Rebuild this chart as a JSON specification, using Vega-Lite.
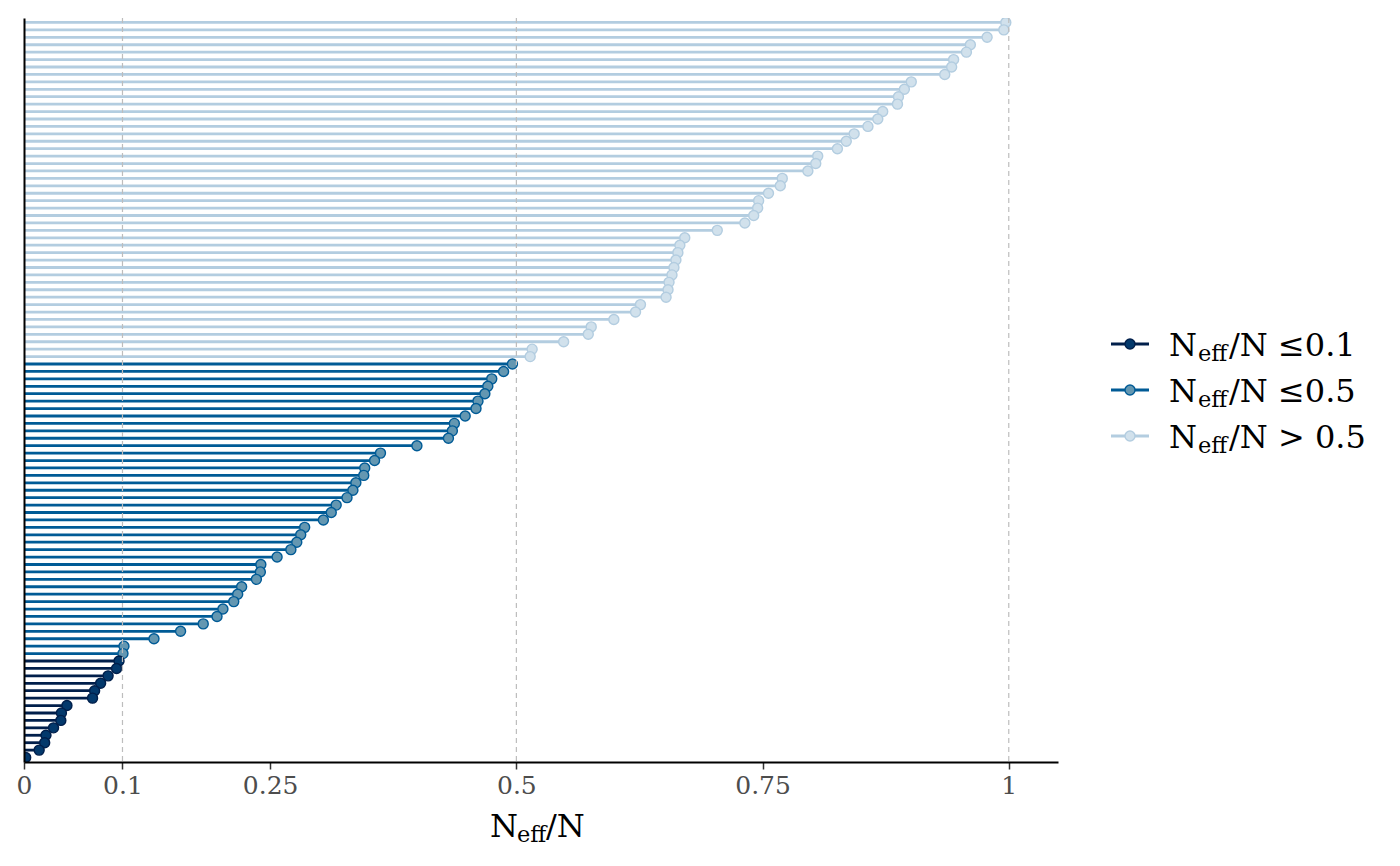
{
  "$schema": "https://vega.github.io/schema/vega-lite/v6.json",
  "background": "white",
  "padding": {"left": 16, "top": 17, "right": 5, "bottom": 5},
  "config": {
    "view": {"stroke": null},
    "font": "DejaVu Serif",
    "concat": {"spacing": 42}
  },
  "datasets": {
    "neff": [
      {"param": "p001", "ratio": 0.997, "rating": "high"},
      {"param": "p002", "ratio": 0.995, "rating": "high"},
      {"param": "p003", "ratio": 0.978, "rating": "high"},
      {"param": "p004", "ratio": 0.961, "rating": "high"},
      {"param": "p005", "ratio": 0.957, "rating": "high"},
      {"param": "p006", "ratio": 0.944, "rating": "high"},
      {"param": "p007", "ratio": 0.942, "rating": "high"},
      {"param": "p008", "ratio": 0.935, "rating": "high"},
      {"param": "p009", "ratio": 0.901, "rating": "high"},
      {"param": "p010", "ratio": 0.894, "rating": "high"},
      {"param": "p011", "ratio": 0.888, "rating": "high"},
      {"param": "p012", "ratio": 0.887, "rating": "high"},
      {"param": "p013", "ratio": 0.872, "rating": "high"},
      {"param": "p014", "ratio": 0.867, "rating": "high"},
      {"param": "p015", "ratio": 0.857, "rating": "high"},
      {"param": "p016", "ratio": 0.843, "rating": "high"},
      {"param": "p017", "ratio": 0.835, "rating": "high"},
      {"param": "p018", "ratio": 0.826, "rating": "high"},
      {"param": "p019", "ratio": 0.806, "rating": "high"},
      {"param": "p020", "ratio": 0.804, "rating": "high"},
      {"param": "p021", "ratio": 0.796, "rating": "high"},
      {"param": "p022", "ratio": 0.770, "rating": "high"},
      {"param": "p023", "ratio": 0.768, "rating": "high"},
      {"param": "p024", "ratio": 0.756, "rating": "high"},
      {"param": "p025", "ratio": 0.746, "rating": "high"},
      {"param": "p026", "ratio": 0.745, "rating": "high"},
      {"param": "p027", "ratio": 0.741, "rating": "high"},
      {"param": "p028", "ratio": 0.732, "rating": "high"},
      {"param": "p029", "ratio": 0.704, "rating": "high"},
      {"param": "p030", "ratio": 0.671, "rating": "high"},
      {"param": "p031", "ratio": 0.666, "rating": "high"},
      {"param": "p032", "ratio": 0.664, "rating": "high"},
      {"param": "p033", "ratio": 0.662, "rating": "high"},
      {"param": "p034", "ratio": 0.660, "rating": "high"},
      {"param": "p035", "ratio": 0.658, "rating": "high"},
      {"param": "p036", "ratio": 0.655, "rating": "high"},
      {"param": "p037", "ratio": 0.654, "rating": "high"},
      {"param": "p038", "ratio": 0.652, "rating": "high"},
      {"param": "p039", "ratio": 0.626, "rating": "high"},
      {"param": "p040", "ratio": 0.621, "rating": "high"},
      {"param": "p041", "ratio": 0.599, "rating": "high"},
      {"param": "p042", "ratio": 0.576, "rating": "high"},
      {"param": "p043", "ratio": 0.573, "rating": "high"},
      {"param": "p044", "ratio": 0.548, "rating": "high"},
      {"param": "p045", "ratio": 0.516, "rating": "high"},
      {"param": "p046", "ratio": 0.514, "rating": "high"},
      {"param": "p047", "ratio": 0.496, "rating": "ok"},
      {"param": "p048", "ratio": 0.487, "rating": "ok"},
      {"param": "p049", "ratio": 0.475, "rating": "ok"},
      {"param": "p050", "ratio": 0.471, "rating": "ok"},
      {"param": "p051", "ratio": 0.468, "rating": "ok"},
      {"param": "p052", "ratio": 0.461, "rating": "ok"},
      {"param": "p053", "ratio": 0.459, "rating": "ok"},
      {"param": "p054", "ratio": 0.448, "rating": "ok"},
      {"param": "p055", "ratio": 0.437, "rating": "ok"},
      {"param": "p056", "ratio": 0.435, "rating": "ok"},
      {"param": "p057", "ratio": 0.431, "rating": "ok"},
      {"param": "p058", "ratio": 0.399, "rating": "ok"},
      {"param": "p059", "ratio": 0.362, "rating": "ok"},
      {"param": "p060", "ratio": 0.356, "rating": "ok"},
      {"param": "p061", "ratio": 0.346, "rating": "ok"},
      {"param": "p062", "ratio": 0.345, "rating": "ok"},
      {"param": "p063", "ratio": 0.337, "rating": "ok"},
      {"param": "p064", "ratio": 0.334, "rating": "ok"},
      {"param": "p065", "ratio": 0.328, "rating": "ok"},
      {"param": "p066", "ratio": 0.317, "rating": "ok"},
      {"param": "p067", "ratio": 0.312, "rating": "ok"},
      {"param": "p068", "ratio": 0.304, "rating": "ok"},
      {"param": "p069", "ratio": 0.285, "rating": "ok"},
      {"param": "p070", "ratio": 0.281, "rating": "ok"},
      {"param": "p071", "ratio": 0.277, "rating": "ok"},
      {"param": "p072", "ratio": 0.271, "rating": "ok"},
      {"param": "p073", "ratio": 0.257, "rating": "ok"},
      {"param": "p074", "ratio": 0.2405, "rating": "ok"},
      {"param": "p075", "ratio": 0.2400, "rating": "ok"},
      {"param": "p076", "ratio": 0.236, "rating": "ok"},
      {"param": "p077", "ratio": 0.221, "rating": "ok"},
      {"param": "p078", "ratio": 0.217, "rating": "ok"},
      {"param": "p079", "ratio": 0.213, "rating": "ok"},
      {"param": "p080", "ratio": 0.202, "rating": "ok"},
      {"param": "p081", "ratio": 0.196, "rating": "ok"},
      {"param": "p082", "ratio": 0.182, "rating": "ok"},
      {"param": "p083", "ratio": 0.159, "rating": "ok"},
      {"param": "p084", "ratio": 0.132, "rating": "ok"},
      {"param": "p085", "ratio": 0.1015, "rating": "ok"},
      {"param": "p086", "ratio": 0.1005, "rating": "ok"},
      {"param": "p087", "ratio": 0.0965, "rating": "low"},
      {"param": "p088", "ratio": 0.094, "rating": "low"},
      {"param": "p089", "ratio": 0.0854, "rating": "low"},
      {"param": "p090", "ratio": 0.0778, "rating": "low"},
      {"param": "p091", "ratio": 0.0717, "rating": "low"},
      {"param": "p092", "ratio": 0.0696, "rating": "low"},
      {"param": "p093", "ratio": 0.0436, "rating": "low"},
      {"param": "p094", "ratio": 0.038, "rating": "low"},
      {"param": "p095", "ratio": 0.0374, "rating": "low"},
      {"param": "p096", "ratio": 0.030, "rating": "low"},
      {"param": "p097", "ratio": 0.0223, "rating": "low"},
      {"param": "p098", "ratio": 0.021, "rating": "low"},
      {"param": "p099", "ratio": 0.0154, "rating": "low"},
      {"param": "p100", "ratio": 0.0017, "rating": "low"}
    ],
    "refs": [{"ref": 0.1}, {"ref": 0.5}, {"ref": 1}],
    "axis_title": [{"main": "N", "sub": "eff", "tail": "/N"}],
    "keys": [
      {"rating": "low", "main": "N", "sub": "eff", "tail": "/N ≤0.1"},
      {"rating": "ok", "main": "N", "sub": "eff", "tail": "/N ≤0.5"},
      {"rating": "high", "main": "N", "sub": "eff", "tail": "/N > 0.5"}
    ]
  },
  "hconcat": [
    {
      "width": 1034,
      "height": 744,
      "layer": [
        {
          "data": {"name": "neff"},
          "mark": {"type": "rule", "strokeWidth": 2.8},
          "encoding": {
            "y": {
              "field": "param",
              "type": "nominal",
              "sort": {"field": "ratio", "order": "descending"},
              "scale": {"type": "point", "padding": 0.6},
              "axis": {"domain": true, "domainColor": "black", "domainWidth": 2, "ticks": false, "labels": false, "grid": false, "title": null, "zindex": 1}
            },
            "x": {
              "field": "ratio",
              "type": "quantitative",
              "scale": {"domain": [0, 1.05], "nice": false, "zero": true},
              "axis": {
                "values": [0, 0.1, 0.25, 0.5, 0.75, 1],
                "format": "~g",
                "grid": false,
                "domainColor": "black",
                "domainWidth": 2,
                "tickColor": "#333333",
                "tickWidth": 1.5,
                "tickSize": 7,
                "labelFlush": false,
                "labelFont": "DejaVu Serif",
                "labelFontSize": 25,
                "labelColor": "#4d4d4d",
                "labelPadding": 4,
                "title": null,
                "zindex": 1
              }
            },
            "x2": {"datum": 0},
            "color": {
              "field": "rating",
              "type": "nominal",
              "scale": {"domain": ["low", "ok", "high"], "range": ["#011f4b", "#005b96", "#b3cde0"]},
              "legend": null
            }
          }
        },
        {
          "data": {"name": "neff"},
          "mark": {"type": "circle", "size": 100, "strokeWidth": 1.4, "opacity": 1, "clip": true},
          "encoding": {
            "y": {"field": "param", "type": "nominal", "sort": {"field": "ratio", "order": "descending"}},
            "x": {"field": "ratio", "type": "quantitative"},
            "stroke": {
              "field": "rating",
              "type": "nominal",
              "scale": {"domain": ["low", "ok", "high"], "range": ["#011f4b", "#005b96", "#b3cde0"]},
              "legend": null
            },
            "fill": {
              "field": "rating",
              "type": "nominal",
              "scale": {"domain": ["low", "ok", "high"], "range": ["#03396c", "#6497b1", "#d1e1ec"]},
              "legend": null
            }
          }
        },
        {
          "data": {"name": "refs"},
          "mark": {"type": "rule", "color": "#bdbdbd", "strokeWidth": 1.2, "strokeDash": [5, 4]},
          "encoding": {"x": {"field": "ref", "type": "quantitative"}}
        },
        {
          "data": {"name": "axis_title"},
          "mark": {"type": "text", "align": "left", "baseline": "alphabetic", "fontSize": 32, "color": "black", "font": "DejaVu Serif"},
          "encoding": {"x": {"value": 466}, "y": {"value": 819}, "text": {"field": "main"}}
        },
        {
          "data": {"name": "axis_title"},
          "mark": {"type": "text", "align": "left", "baseline": "alphabetic", "fontSize": 22.5, "color": "black", "font": "DejaVu Serif"},
          "encoding": {"x": {"value": 493}, "y": {"value": 824}, "text": {"field": "sub"}}
        },
        {
          "data": {"name": "axis_title"},
          "mark": {"type": "text", "align": "left", "baseline": "alphabetic", "fontSize": 32, "color": "black", "font": "DejaVu Serif"},
          "encoding": {"x": {"value": 522}, "y": {"value": 819}, "text": {"field": "tail"}}
        }
      ]
    },
    {
      "width": 280,
      "height": 744,
      "data": {"name": "keys"},
      "encoding": {
        "y": {
          "field": "rating",
          "type": "nominal",
          "sort": ["low", "ok", "high"],
          "scale": {"type": "point", "range": [326, 418], "padding": 0},
          "axis": null
        }
      },
      "layer": [
        {
          "mark": {"type": "rule", "strokeWidth": 2.8},
          "encoding": {
            "x": {"value": 11},
            "x2": {"value": 49},
            "color": {
              "field": "rating",
              "type": "nominal",
              "scale": {"domain": ["low", "ok", "high"], "range": ["#011f4b", "#005b96", "#b3cde0"]},
              "legend": null
            }
          }
        },
        {
          "mark": {"type": "circle", "size": 100, "strokeWidth": 1.4, "opacity": 1},
          "encoding": {
            "x": {"value": 30},
            "stroke": {
              "field": "rating",
              "type": "nominal",
              "scale": {"domain": ["low", "ok", "high"], "range": ["#011f4b", "#005b96", "#b3cde0"]},
              "legend": null
            },
            "fill": {
              "field": "rating",
              "type": "nominal",
              "scale": {"domain": ["low", "ok", "high"], "range": ["#03396c", "#6497b1", "#d1e1ec"]},
              "legend": null
            }
          }
        },
        {
          "mark": {"type": "text", "align": "left", "baseline": "alphabetic", "fontSize": 32, "dy": 12, "color": "black", "font": "DejaVu Serif"},
          "encoding": {"x": {"value": 69}, "text": {"field": "main"}}
        },
        {
          "mark": {"type": "text", "align": "left", "baseline": "alphabetic", "fontSize": 22.5, "dy": 17, "color": "black", "font": "DejaVu Serif"},
          "encoding": {"x": {"value": 98}, "text": {"field": "sub"}}
        },
        {
          "mark": {"type": "text", "align": "left", "baseline": "alphabetic", "fontSize": 32, "dy": 12, "color": "black", "font": "DejaVu Serif"},
          "encoding": {"x": {"value": 129}, "text": {"field": "tail"}}
        }
      ]
    }
  ]
}
